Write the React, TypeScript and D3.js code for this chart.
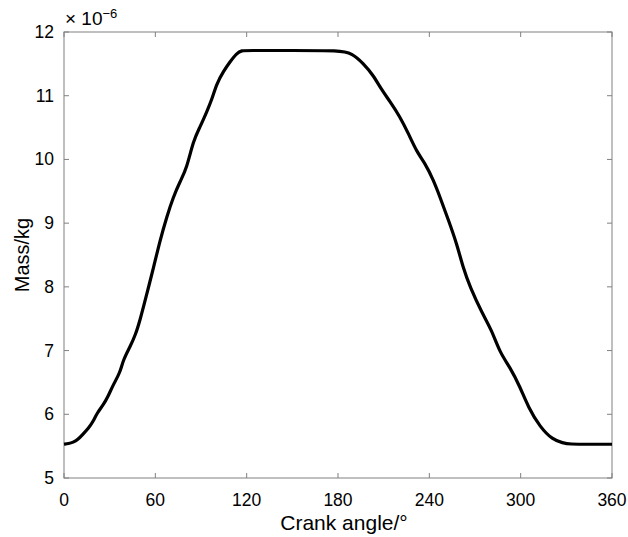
import React from "react";
import * as d3 from "d3";

const angles = [0, 3, 6, 9, 12.5, 16, 19, 21.7, 25.6, 29, 32.2, 36.8, 38.8, 43.4, 47, 50, 54.5, 58.7, 63.1, 67.5, 71.8, 76.2, 80.6, 85, 89.4, 93.8, 97, 100.3, 104.7, 109, 113.5, 117, 120, 150, 181.3, 189, 196.6, 203.2, 208.7, 214.2, 220.7, 226.2, 231.7, 237.2, 242.6, 247, 252.5, 258, 262.3, 266.7, 274.6, 281, 286.5, 293, 299.6, 305, 312.7, 321, 327.8, 332, 345, 360];
const masses = [5.53, 5.54, 5.56, 5.6, 5.69, 5.78, 5.88, 6.02, 6.14, 6.28, 6.46, 6.65, 6.85, 7.06, 7.25, 7.48, 7.9, 8.29, 8.73, 9.1, 9.41, 9.65, 9.86, 10.3, 10.51, 10.75, 10.93, 11.19, 11.38, 11.53, 11.67, 11.71, 11.71, 11.71, 11.71, 11.67, 11.51, 11.32, 11.09, 10.91, 10.67, 10.41, 10.12, 9.94, 9.68, 9.41, 9.05, 8.68, 8.29, 8.0, 7.59, 7.32, 6.96, 6.74, 6.43, 6.11, 5.8, 5.6, 5.55, 5.53, 5.53, 5.53];
const xTicks = [0, 60, 120, 180, 240, 300, 360];
const yTicks = [5, 6, 7, 8, 9, 10, 11, 12];

export default function App() {
  const W = 628, H = 537;
  const left = 64, right = 612, top = 32, bottom = 478;
  const x = d3.scaleLinear().domain([0, 360]).range([left, right]);
  const y = d3.scaleLinear().domain([5, 12]).range([bottom, top]);
  const data = angles.map((a, i) => [a, masses[i]] as [number, number]);
  const line = d3.line<[number, number]>().x(d => x(d[0])).y(d => y(d[1])).curve(d3.curveBasis);
  const axisColor = "#808080";
  const font = "Liberation Sans, Arial, Helvetica, sans-serif";
  const tl = 5;
  return (
    <svg width={W} height={H} style={{ position: "absolute", left: 0, top: 0, background: "#fff" }} fontFamily={font}>
      <rect x={left} y={top} width={right - left} height={bottom - top} fill="none" stroke={axisColor} strokeWidth={1} />
      {xTicks.map(t => (
        <g key={"x" + t}>
          <line x1={x(t)} x2={x(t)} y1={bottom} y2={bottom - tl} stroke={axisColor} />
          <line x1={x(t)} x2={x(t)} y1={top} y2={top + tl} stroke={axisColor} />
          <text x={x(t)} y={506} textAnchor="middle" fontSize={17.5} fill="#000">{t}</text>
        </g>
      ))}
      {yTicks.map(t => (
        <g key={"y" + t}>
          <line x1={left} x2={left + tl} y1={y(t)} y2={y(t)} stroke={axisColor} />
          <line x1={right} x2={right - tl} y1={y(t)} y2={y(t)} stroke={axisColor} />
          <text x={54} y={y(t) + 6} textAnchor="end" fontSize={17.5} fill="#000">{t}</text>
        </g>
      ))}
      <text x={65} y={25} fontSize={19} fill="#000">
        × 10<tspan dy={-7} fontSize={13}>−6</tspan>
      </text>
      <path d={line(data) ?? ""} fill="none" stroke="#000" strokeWidth={3.2} strokeLinejoin="round" />
      <text x={(left + right) / 2 + 6} y={530} textAnchor="middle" fontSize={21} fill="#000">Crank angle/°</text>
      <text transform={`translate(29,${(top + bottom) / 2}) rotate(-90)`} textAnchor="middle" fontSize={20} fill="#000">Mass/kg</text>
    </svg>
  );
}
